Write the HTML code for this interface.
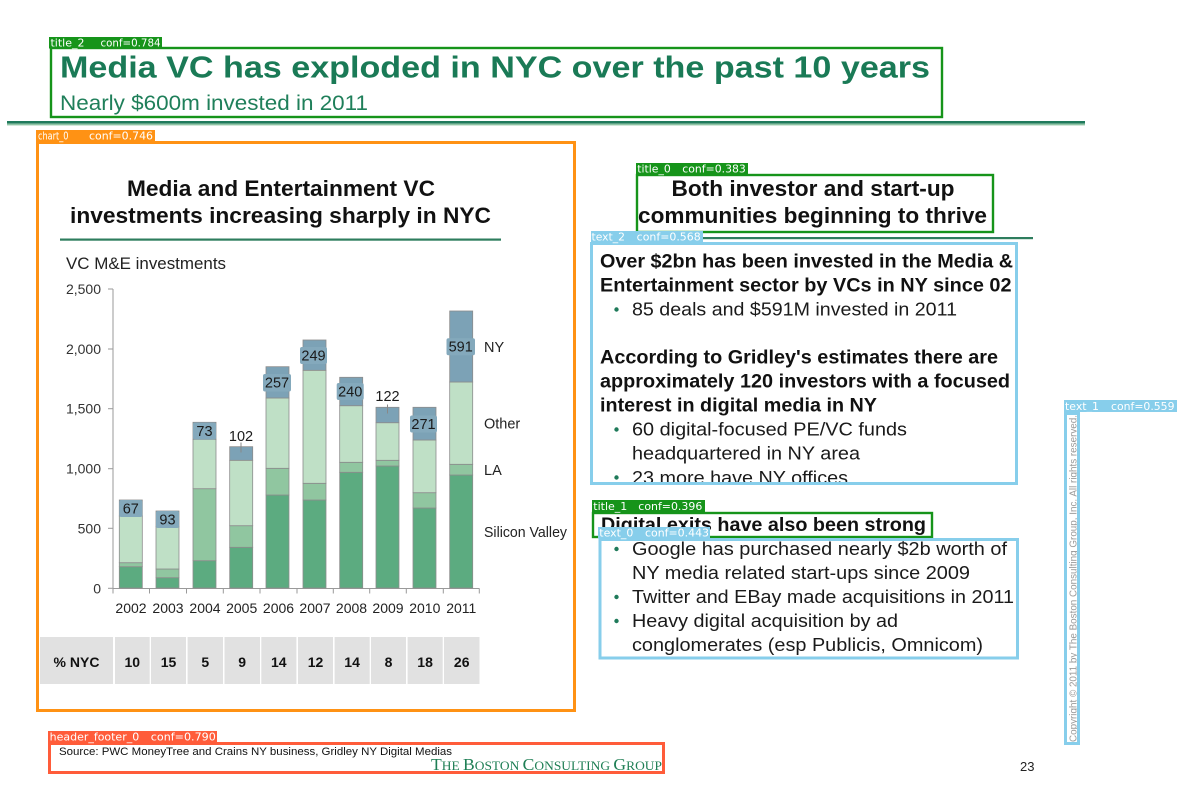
<!DOCTYPE html>
<html>
<head>
<meta charset="utf-8">
<style>
  html,body{margin:0;padding:0;background:#fff;}
  svg{display:block;}
  text{font-family:"Liberation Sans",Arial,sans-serif;}
  .lbl{font-family:"DejaVu Sans","Liberation Sans",sans-serif;font-size:10.5px;fill:#fff;}
</style>
</head>
<body>
<svg width="1182" height="785" viewBox="0 0 1182 785" xmlns="http://www.w3.org/2000/svg">
  <rect x="0" y="0" width="1182" height="785" fill="#fff"/>

  <!-- Slide header -->
  <text x="60" y="77.5" font-size="31" font-weight="bold" fill="#1a7a56" textLength="870" lengthAdjust="spacingAndGlyphs">Media VC has exploded in NYC over the past 10 years</text>
  <text x="60" y="110" font-size="21.5" fill="#1f7f5a" textLength="308" lengthAdjust="spacingAndGlyphs">Nearly $600m invested in 2011</text>
  <rect x="7" y="121" width="1078" height="2.6" fill="#1f7a5c"/>
  <rect x="7" y="123.6" width="1078" height="1.8" fill="#8fc4a5"/>

  <!-- Chart title -->
  <text x="281" y="196" font-size="22" font-weight="bold" fill="#111" text-anchor="middle" textLength="308" lengthAdjust="spacingAndGlyphs">Media and Entertainment VC</text>
  <text x="280.5" y="223" font-size="22" font-weight="bold" fill="#111" text-anchor="middle" textLength="421" lengthAdjust="spacingAndGlyphs">investments increasing sharply in NYC</text>
  <rect x="60" y="238.5" width="441" height="2.2" fill="#2e7d5e"/>
  <text x="66" y="269" font-size="16.5" fill="#222" textLength="160" lengthAdjust="spacingAndGlyphs">VC M&amp;E investments</text>

  <!-- Axes -->
  <g stroke="#9a9a9a" stroke-width="1" fill="none">
    <line x1="113" y1="289" x2="113" y2="588.5"/>
    <line x1="113" y1="588.5" x2="479.5" y2="588.5"/>
    <line x1="108" y1="289" x2="113" y2="289"/>
    <line x1="108" y1="349" x2="113" y2="349"/>
    <line x1="108" y1="408.7" x2="113" y2="408.7"/>
    <line x1="108" y1="468.7" x2="113" y2="468.7"/>
    <line x1="108" y1="528.3" x2="113" y2="528.3"/>
    <line x1="108" y1="588.3" x2="113" y2="588.3"/>
    <line x1="113" y1="588.5" x2="113" y2="593.5"/>
    <line x1="149.5" y1="588.5" x2="149.5" y2="593.5"/>
    <line x1="186.5" y1="588.5" x2="186.5" y2="593.5"/>
    <line x1="223.3" y1="588.5" x2="223.3" y2="593.5"/>
    <line x1="260" y1="588.5" x2="260" y2="593.5"/>
    <line x1="297" y1="588.5" x2="297" y2="593.5"/>
    <line x1="333.3" y1="588.5" x2="333.3" y2="593.5"/>
    <line x1="369.7" y1="588.5" x2="369.7" y2="593.5"/>
    <line x1="406.3" y1="588.5" x2="406.3" y2="593.5"/>
    <line x1="443.3" y1="588.5" x2="443.3" y2="593.5"/>
    <line x1="479.3" y1="588.5" x2="479.3" y2="593.5"/>
  </g>
  <g font-size="14" fill="#333" text-anchor="end">
    <text x="101" y="294">2,500</text>
    <text x="101" y="354">2,000</text>
    <text x="101" y="413.7">1,500</text>
    <text x="101" y="473.7">1,000</text>
    <text x="101" y="533.3">500</text>
    <text x="101" y="593.3">0</text>
  </g>

  <!-- Bars -->
  <g stroke="#8c8c8c" stroke-width="0.8">
    <rect x="119.3" y="566.7" width="23" height="21.3" fill="#5cab80"/>
    <rect x="119.3" y="562.7" width="23" height="4" fill="#90c6a0"/>
    <rect x="119.3" y="516" width="23" height="46.7" fill="#bfe0c6"/>
    <rect x="119.3" y="500" width="23" height="16" fill="#7ca2b6"/>
    <rect x="156" y="577.7" width="23" height="10.3" fill="#5cab80"/>
    <rect x="156" y="569" width="23" height="8.7" fill="#90c6a0"/>
    <rect x="156" y="526.7" width="23" height="42.3" fill="#bfe0c6"/>
    <rect x="156" y="511" width="23" height="15.7" fill="#7ca2b6"/>
    <rect x="193" y="560.7" width="23" height="27.3" fill="#5cab80"/>
    <rect x="193" y="488.7" width="23" height="72" fill="#90c6a0"/>
    <rect x="193" y="439.3" width="23" height="49.4" fill="#bfe0c6"/>
    <rect x="193" y="422.3" width="23" height="17" fill="#7ca2b6"/>
    <rect x="229.7" y="547.3" width="23" height="40.7" fill="#5cab80"/>
    <rect x="229.7" y="525.7" width="23" height="21.6" fill="#90c6a0"/>
    <rect x="229.7" y="460.3" width="23" height="65.4" fill="#bfe0c6"/>
    <rect x="229.7" y="446.7" width="23" height="13.6" fill="#7ca2b6"/>
    <rect x="266" y="495" width="23" height="93" fill="#5cab80"/>
    <rect x="266" y="468.3" width="23" height="26.7" fill="#90c6a0"/>
    <rect x="266" y="398" width="23" height="70.3" fill="#bfe0c6"/>
    <rect x="266" y="366.7" width="23" height="31.3" fill="#7ca2b6"/>
    <rect x="303" y="500" width="23" height="88" fill="#5cab80"/>
    <rect x="303" y="483.3" width="23" height="16.7" fill="#90c6a0"/>
    <rect x="303" y="370.3" width="23" height="113" fill="#bfe0c6"/>
    <rect x="303" y="340" width="23" height="30.3" fill="#7ca2b6"/>
    <rect x="339.7" y="472.3" width="23" height="115.7" fill="#5cab80"/>
    <rect x="339.7" y="462.3" width="23" height="10" fill="#90c6a0"/>
    <rect x="339.7" y="405.7" width="23" height="56.6" fill="#bfe0c6"/>
    <rect x="339.7" y="377.3" width="23" height="28.4" fill="#7ca2b6"/>
    <rect x="376" y="466" width="23" height="122" fill="#5cab80"/>
    <rect x="376" y="460.3" width="23" height="5.7" fill="#90c6a0"/>
    <rect x="376" y="422.7" width="23" height="37.6" fill="#bfe0c6"/>
    <rect x="376" y="407.3" width="23" height="15.4" fill="#7ca2b6"/>
    <rect x="413" y="508" width="23" height="80" fill="#5cab80"/>
    <rect x="413" y="492.7" width="23" height="15.3" fill="#90c6a0"/>
    <rect x="413" y="440" width="23" height="52.7" fill="#bfe0c6"/>
    <rect x="413" y="407.3" width="23" height="32.7" fill="#7ca2b6"/>
    <rect x="449.7" y="475" width="23" height="113" fill="#5cab80"/>
    <rect x="449.7" y="464.3" width="23" height="10.7" fill="#90c6a0"/>
    <rect x="449.7" y="382" width="23" height="82.3" fill="#bfe0c6"/>
    <rect x="449.7" y="311" width="23" height="71" fill="#7ca2b6"/>
  </g>

  <!-- Data labels -->
  <g fill="#84a9bc">
    <rect x="119.3" y="500" width="23" height="17" rx="2"/>
    <rect x="156" y="511" width="23" height="17" rx="2"/>
    <rect x="193" y="422.5" width="23" height="17" rx="2"/>
    <rect x="263" y="374" width="28" height="17.5" rx="2"/>
    <rect x="300" y="347" width="27" height="17" rx="2"/>
    <rect x="336.7" y="383" width="27" height="17" rx="2"/>
    <rect x="410" y="415.5" width="27" height="17" rx="2"/>
    <rect x="446.5" y="338.3" width="28.5" height="17" rx="2"/>
  </g>
  <g stroke="#888" stroke-width="1">
    <line x1="241" y1="442.5" x2="241" y2="452.5"/>
    <line x1="387.5" y1="404.5" x2="387.5" y2="413.5"/>
  </g>
  <g font-size="14.5" fill="#1a1a1a" text-anchor="middle">
    <text x="130.8" y="513.7">67</text>
    <text x="167.5" y="524.5">93</text>
    <text x="204.5" y="436">73</text>
    <text x="241" y="441">102</text>
    <text x="277" y="387.7">257</text>
    <text x="313.5" y="360.5">249</text>
    <text x="350.2" y="396.7">240</text>
    <text x="387.5" y="401">122</text>
    <text x="423.5" y="429">271</text>
    <text x="460.7" y="351.7">591</text>
  </g>

  <!-- Legend labels -->
  <g font-size="14.5" fill="#222">
    <text x="484" y="352">NY</text>
    <text x="484" y="428.5">Other</text>
    <text x="484" y="475">LA</text>
    <text x="484" y="537" textLength="83" lengthAdjust="spacingAndGlyphs">Silicon Valley</text>
  </g>

  <!-- Year labels -->
  <g font-size="14" fill="#222" text-anchor="middle">
    <text x="131" y="613">2002</text>
    <text x="168" y="613">2003</text>
    <text x="205" y="613">2004</text>
    <text x="241.7" y="613">2005</text>
    <text x="278.5" y="613">2006</text>
    <text x="315" y="613">2007</text>
    <text x="351.5" y="613">2008</text>
    <text x="388" y="613">2009</text>
    <text x="424.8" y="613">2010</text>
    <text x="461.3" y="613">2011</text>
  </g>

  <!-- % NYC table -->
  <g fill="#e1e1e1">
    <rect x="40" y="637" width="73" height="47"/>
    <rect x="115" y="637" width="34.7" height="47"/>
    <rect x="151" y="637" width="35" height="47"/>
    <rect x="187.6" y="637" width="35.4" height="47"/>
    <rect x="224.5" y="637" width="35.5" height="47"/>
    <rect x="261.3" y="637" width="35.1" height="47"/>
    <rect x="298" y="637" width="35" height="47"/>
    <rect x="334.6" y="637" width="35.1" height="47"/>
    <rect x="371" y="637" width="35" height="47"/>
    <rect x="407.6" y="637" width="35.1" height="47"/>
    <rect x="444" y="637" width="35.5" height="47"/>
  </g>
  <g font-size="14" font-weight="bold" fill="#111" text-anchor="middle">
    <text x="76.5" y="667">% NYC</text>
    <text x="132.3" y="667">10</text>
    <text x="168.5" y="667">15</text>
    <text x="205.3" y="667">5</text>
    <text x="242.2" y="667">9</text>
    <text x="278.8" y="667">14</text>
    <text x="315.5" y="667">12</text>
    <text x="352.1" y="667">14</text>
    <text x="388.5" y="667">8</text>
    <text x="425.1" y="667">18</text>
    <text x="461.7" y="667">26</text>
  </g>

  <!-- Right panel -->
  <text x="813" y="196" font-size="22" font-weight="bold" fill="#111" text-anchor="middle" textLength="283" lengthAdjust="spacingAndGlyphs">Both investor and start-up</text>
  <text x="812.5" y="223" font-size="22" font-weight="bold" fill="#111" text-anchor="middle" textLength="349" lengthAdjust="spacingAndGlyphs">communities beginning to thrive</text>
  <rect x="595" y="237" width="438" height="2.2" fill="#2e7d5e"/>

  <g font-size="19" font-weight="bold" fill="#111">
    <text x="600" y="267.5" textLength="413" lengthAdjust="spacingAndGlyphs">Over $2bn has been invested in the Media &amp;</text>
    <text x="600" y="291.5" textLength="411.5" lengthAdjust="spacingAndGlyphs">Entertainment sector by VCs in NY since 02</text>
    <text x="600" y="363.5" textLength="398" lengthAdjust="spacingAndGlyphs">According to Gridley's estimates there are</text>
    <text x="600" y="387.5" textLength="410" lengthAdjust="spacingAndGlyphs">approximately 120 investors with a focused</text>
    <text x="600" y="411.5" textLength="277" lengthAdjust="spacingAndGlyphs">interest in digital media in NY</text>
    <text x="601" y="531" textLength="325" lengthAdjust="spacingAndGlyphs">Digital exits have also been strong</text>
  </g>
  <g font-size="18.5" fill="#1a1a1a">
    <text x="632" y="315.7" textLength="325" lengthAdjust="spacingAndGlyphs">85 deals and $591M invested in 2011</text>
    <text x="632" y="435.5" textLength="275" lengthAdjust="spacingAndGlyphs">60 digital-focused PE/VC funds</text>
    <text x="632" y="459.5" textLength="228" lengthAdjust="spacingAndGlyphs">headquartered in NY area</text>
    <text x="632" y="484" textLength="216" lengthAdjust="spacingAndGlyphs">23 more have NY offices</text>
    <text x="632" y="555" textLength="375" lengthAdjust="spacingAndGlyphs">Google has purchased nearly $2b worth of</text>
    <text x="632" y="579" textLength="338" lengthAdjust="spacingAndGlyphs">NY media related start-ups since 2009</text>
    <text x="632" y="603" textLength="382" lengthAdjust="spacingAndGlyphs">Twitter and EBay made acquisitions in 2011</text>
    <text x="632" y="627" textLength="266" lengthAdjust="spacingAndGlyphs">Heavy digital acquisition by ad</text>
    <text x="632" y="651" textLength="351" lengthAdjust="spacingAndGlyphs">conglomerates (esp Publicis, Omnicom)</text>
  </g>
  <g fill="#1f7a5a">
    <circle cx="616.5" cy="309.5" r="2.2"/>
    <circle cx="616.5" cy="429.5" r="2.2"/>
    <circle cx="616.5" cy="477.5" r="2.2"/>
    <circle cx="616.5" cy="549" r="2.2"/>
    <circle cx="616.5" cy="597" r="2.2"/>
    <circle cx="616.5" cy="621" r="2.2"/>
  </g>

  <!-- Footer -->
  <text x="59" y="755" font-size="11" fill="#111" textLength="393" lengthAdjust="spacingAndGlyphs">Source: PWC MoneyTree and Crains NY business, Gridley NY Digital Medias</text>
  <text x="431" y="770" style="font-family:'Liberation Serif','DejaVu Serif',serif;" fill="#1f7f55" textLength="231" lengthAdjust="spacingAndGlyphs"><tspan font-size="17">T</tspan><tspan font-size="13">HE </tspan><tspan font-size="17">B</tspan><tspan font-size="13">OSTON </tspan><tspan font-size="17">C</tspan><tspan font-size="13">ONSULTING </tspan><tspan font-size="17">G</tspan><tspan font-size="13">ROUP</tspan></text>
  <text x="1020" y="771" font-size="13" fill="#222">23</text>
  <text transform="translate(1076.5,742) rotate(-90)" x="0" y="0" font-size="10" fill="#9a9a9a" textLength="327" lengthAdjust="spacingAndGlyphs">Copyright © 2011 by The Boston Consulting Group, Inc. All rights reserved.</text>

  <!-- Detection boxes -->
  <g fill="none">
    <rect x="51" y="48" width="891" height="69" stroke="#16941a" stroke-width="2.4"/>
    <rect x="37.5" y="142.5" width="537" height="568" stroke="#ff9214" stroke-width="3"/>
    <rect x="637" y="175" width="356" height="57" stroke="#16941a" stroke-width="2.4"/>
    <rect x="591.5" y="243.5" width="425" height="240" stroke="#87ceeb" stroke-width="3"/>
    <rect x="1065.5" y="413.5" width="13" height="330" stroke="#87ceeb" stroke-width="3"/>
    <rect x="593" y="513" width="339" height="24" stroke="#16941a" stroke-width="2.4"/>
    <rect x="600" y="539.5" width="417.5" height="118.5" stroke="#87ceeb" stroke-width="3"/>
    <rect x="49.5" y="743.5" width="614" height="29" stroke="#ff5c3a" stroke-width="3"/>
  </g>

  <!-- Detection labels -->
  <rect x="49" y="37" width="113" height="11.5" fill="#16941a"/>
  <text class="lbl" x="50.5" y="46.5" textLength="34" lengthAdjust="spacingAndGlyphs">title_2</text>
  <text class="lbl" x="100.5" y="46.5" textLength="60" lengthAdjust="spacingAndGlyphs">conf=0.784</text>

  <rect x="36" y="130" width="119" height="11.5" fill="#ff9214"/>
  <text class="lbl" x="38" y="139.5" textLength="30.5" lengthAdjust="spacingAndGlyphs">chart_0</text>
  <text class="lbl" x="89" y="139.5" textLength="64" lengthAdjust="spacingAndGlyphs">conf=0.746</text>

  <rect x="636" y="163" width="112" height="11.5" fill="#16941a"/>
  <text class="lbl" x="637.3" y="172.5" textLength="33.5" lengthAdjust="spacingAndGlyphs">title_0</text>
  <text class="lbl" x="682.3" y="172.5" textLength="63.5" lengthAdjust="spacingAndGlyphs">conf=0.383</text>

  <rect x="591" y="231" width="112" height="11.5" fill="#87ceeb"/>
  <text class="lbl" x="591.5" y="240.5" textLength="33.5" lengthAdjust="spacingAndGlyphs">text_2</text>
  <text class="lbl" x="636.7" y="240.5" textLength="64" lengthAdjust="spacingAndGlyphs">conf=0.568</text>

  <rect x="1064" y="400" width="113" height="12" fill="#87ceeb"/>
  <text class="lbl" x="1065" y="410" textLength="34" lengthAdjust="spacingAndGlyphs">text_1</text>
  <text class="lbl" x="1111" y="410" textLength="63.5" lengthAdjust="spacingAndGlyphs">conf=0.559</text>

  <rect x="592" y="500" width="113" height="12" fill="#16941a"/>
  <text class="lbl" x="593.3" y="510" textLength="34" lengthAdjust="spacingAndGlyphs">title_1</text>
  <text class="lbl" x="638.3" y="510" textLength="64" lengthAdjust="spacingAndGlyphs">conf=0.396</text>

  <rect x="598" y="527" width="112" height="11.5" fill="#87ceeb"/>
  <text class="lbl" x="599.3" y="536.5" textLength="34" lengthAdjust="spacingAndGlyphs">text_0</text>
  <text class="lbl" x="645" y="536.5" textLength="64" lengthAdjust="spacingAndGlyphs">conf=0.443</text>

  <rect x="48" y="731" width="169" height="11.5" fill="#ff5c3a"/>
  <text class="lbl" x="49.7" y="740.5" textLength="89.5" lengthAdjust="spacingAndGlyphs">header_footer_0</text>
  <text class="lbl" x="150.8" y="740.5" textLength="65" lengthAdjust="spacingAndGlyphs">conf=0.790</text>
</svg>
</body>
</html>
